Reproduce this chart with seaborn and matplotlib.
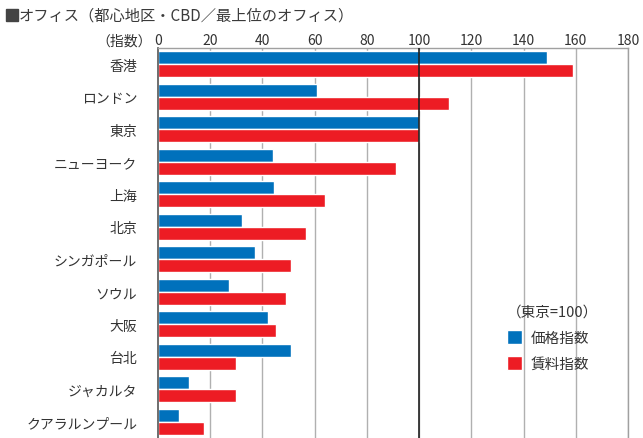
import pandas as pd
import matplotlib.pyplot as plt
import matplotlib.patches as mpatches
import seaborn as sns

# --- data (indices, Tokyo = 100) ---
cities = ['香港', 'ロンドン', '東京', 'ニューヨーク', '上海', '北京',
          'シンガポール', 'ソウル', '大阪', '台北', 'ジャカルタ', 'クアラルンプール']
price_index = [149, 61, 100, 44, 44.5, 32, 37, 27, 42, 51, 12, 8]
rent_index = [159, 111.5, 100, 91, 64, 56.5, 51, 49, 45, 30, 30, 17.5]
series_names = ['価格指数', '賃料指数']
xticks = [0, 20, 40, 60, 80, 100, 120, 140, 160, 180]

df = pd.DataFrame({
    'city': cities * 2,
    'value': price_index + rent_index,
    'series': [series_names[0]] * len(cities) + [series_names[1]] * len(cities),
})

sns.set_style('white')
plt.rcParams['font.family'] = ['Noto Sans CJK JP', 'DejaVu Sans']

fig = plt.figure(figsize=(6.43, 4.39), dpi=100)
ax = fig.add_axes([158 / 643, 0, 470 / 643, 390 / 439])

palette = {'価格指数': '#0071BC', '賃料指数': '#ED1C24'}
sns.barplot(data=df, x='value', y='city', hue='series', order=cities,
            palette=palette, width=0.8, saturation=1, ax=ax, orient='h')

ax.set_xlim(0, 180)
ax.set_ylim(11.5, -0.5)
ax.set_xticks(xticks)
ax.xaxis.tick_top()
ax.tick_params(axis='x', length=0, pad=0.5, labelsize=10, colors='#333333')
ax.tick_params(axis='y', length=0, pad=15, labelsize=10, colors='#333333')
ax.set_xlabel('')
ax.set_ylabel('')

# grid lines
for t in xticks[1:]:
    ax.axvline(t, color='#b0b0b0', lw=1.0, zorder=0)
ax.axvline(100, color='#222222', lw=1.2, zorder=3)

for side in ['top', 'right']:
    ax.spines[side].set_color('#a0a0a0')
    ax.spines[side].set_linewidth(1)
ax.spines['left'].set_color('#555555')
ax.spines['left'].set_linewidth(1.2)
ax.spines['bottom'].set_visible(False)

ax.text(-0.012, 1.0, '（指数）', transform=ax.transAxes, ha='right', va='bottom',
        fontsize=10, color='#333333')

leg = ax.legend(title='（東京=100）', frameon=False, loc='upper left',
                bbox_to_anchor=(0.715, 0.375), handlelength=1.0, handleheight=1.1,
                handletextpad=0.6, labelspacing=0.75, fontsize=10.5, title_fontsize=10.5)
leg._legend_box.align = 'left'
for txt in leg.get_texts():
    txt.set_color('#333333')
leg.get_title().set_color('#333333')

# title with a solid square marker
fig.patches.append(mpatches.Rectangle((6 / 643, 1 - 22 / 439), 12 / 643, 12 / 439,
                                      transform=fig.transFigure, color='#444444'))
fig.text(19 / 643, 1 - 16 / 439, 'オフィス（都心地区・CBD／最上位のオフィス）',
         ha='left', va='center', fontsize=11, color='#3a3a3a')

fig.savefig('out.png', dpi=100)
